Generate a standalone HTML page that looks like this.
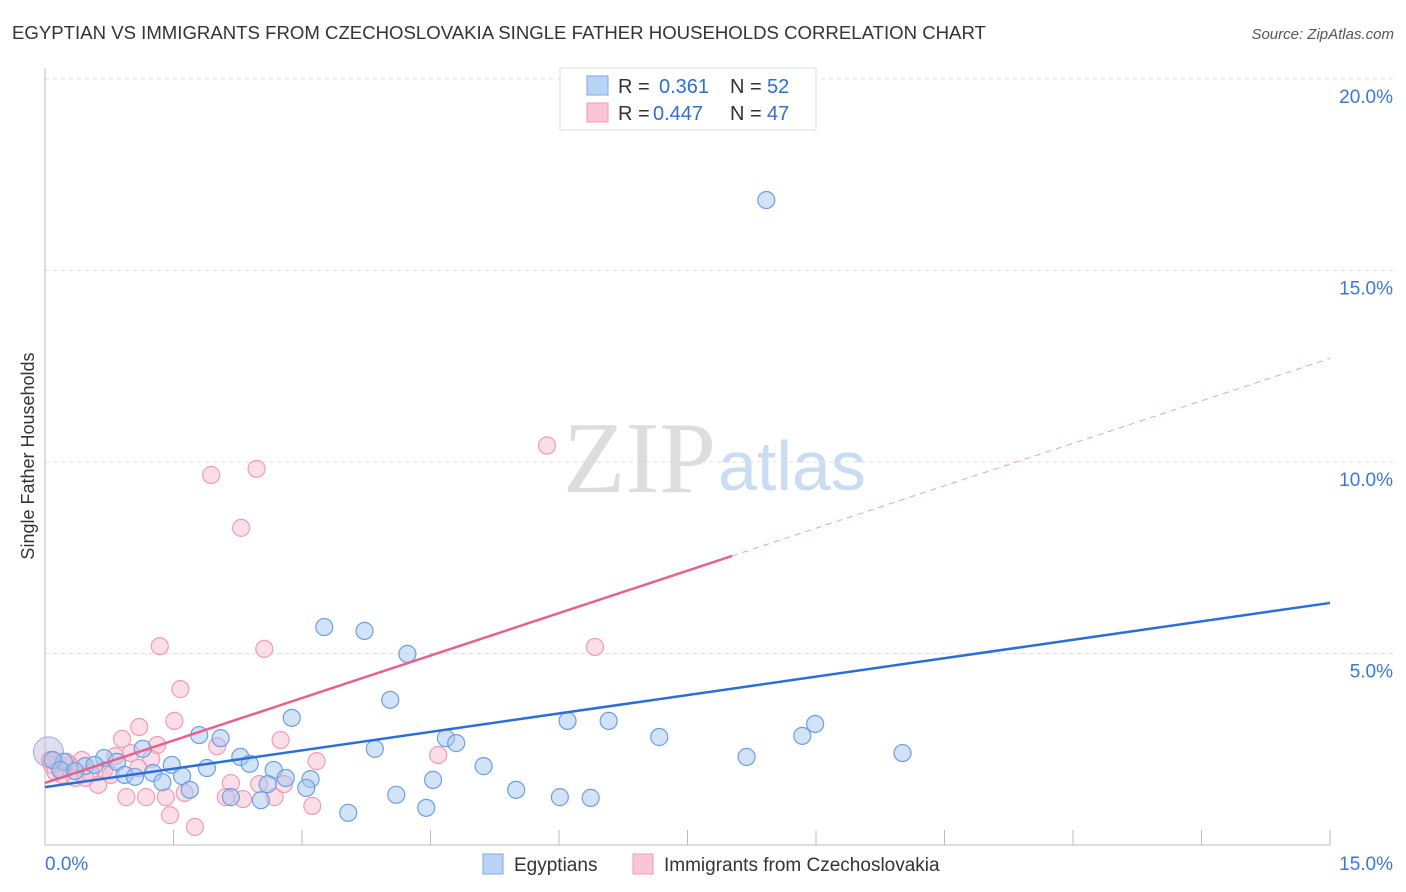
<!DOCTYPE html>
<html><head><meta charset="utf-8"><style>
body{margin:0;background:#fff;font-family:"Liberation Sans",sans-serif;}
#wrap{position:relative;width:1406px;height:892px;overflow:hidden;}
</style></head><body><div id="wrap">
<svg id="svg" width="1406" height="892" xmlns="http://www.w3.org/2000/svg">
<text x="12" y="39" font-size="18.6" fill="#333">EGYPTIAN VS IMMIGRANTS FROM CZECHOSLOVAKIA SINGLE FATHER HOUSEHOLDS CORRELATION CHART</text>
<text x="1394" y="39" font-size="15" fill="#555" font-style="italic" text-anchor="end">Source: ZipAtlas.com</text>
<text x="34" y="456" font-size="18" fill="#333" text-anchor="middle" transform="rotate(-90 34 456)">Single Father Households</text>
<text x="716" y="492" font-size="102" fill="#ddd" text-anchor="end" font-family="Liberation Serif,serif">ZIP</text>
<text x="718" y="490" font-size="70" fill="#c9dcf3">atlas</text>
<g id="grid"></g><g id="axes"></g><g id="pts"></g><g id="lines"></g>
<g>
<rect x="560" y="68" width="256" height="62" fill="#fff" stroke="#ddd"/>
<rect x="587" y="76" width="21" height="19" fill="#b9d3f5" stroke="#7aa8e6"/>
<rect x="587" y="103" width="21" height="19" fill="#f9c6d5" stroke="#ee9ab5"/>
<text y="93" font-size="20" fill="#333"><tspan x="618">R =</tspan><tspan x="659" fill="#2f6fd0">0.361</tspan><tspan x="730">N =</tspan><tspan x="767" fill="#2f6fd0">52</tspan></text>
<text y="120" font-size="20" fill="#333"><tspan x="618">R =</tspan><tspan x="653" fill="#2f6fd0">0.447</tspan><tspan x="730">N =</tspan><tspan x="767" fill="#2f6fd0">47</tspan></text>
</g>
<g>
<rect x="483" y="854" width="20" height="20" fill="#b9d3f5" stroke="#7aa8e6"/>
<text x="514" y="871" font-size="19" fill="#333">Egyptians</text>
<rect x="633" y="854" width="20" height="20" fill="#f9c6d5" stroke="#ee9ab5"/>
<text x="664" y="871" font-size="19" fill="#333">Immigrants from Czechoslovakia</text>
</g>
</svg></div>
<script>
const yTicks=[5,10,15,20];
const yTickLabels=["5.0%","10.0%","15.0%","20.0%"];
const xTickLabels=["0.0%","15.0%"];
const blueX=[8.42,3.26,3.73,4.23,4.03,2.88,1.80,2.05,1.14,0.69,0.84,1.48,1.89,2.28,2.39,0.22,0.47,0.58,0.93,1.26,1.60,1.05,1.37,1.69,2.67,2.81,3.10,2.60,3.05,2.17,2.52,3.54,3.85,4.68,4.80,5.12,4.53,4.10,4.45,5.50,6.01,6.37,6.10,6.58,7.17,8.19,8.84,8.99,10.01,0.09,0.18,0.35];
const blueY=[16.84,5.69,5.59,4.99,3.79,3.32,2.87,2.79,2.51,2.27,2.17,2.09,2.01,2.30,2.12,2.17,2.06,2.09,1.83,1.88,1.80,1.78,1.64,1.44,1.96,1.75,1.72,1.59,1.49,1.25,1.17,0.84,2.51,2.79,2.66,2.06,1.70,1.31,0.97,1.44,1.25,1.23,3.24,3.24,2.82,2.30,2.85,3.16,2.40,2.22,1.96,1.93];
const pinkX=[5.86,1.94,2.47,2.29,1.34,2.56,1.58,6.42,1.10,1.51,0.90,2.75,2.01,1.31,1.00,1.24,0.82,0.69,3.17,4.59,0.43,0.29,0.18,0.08,0.53,0.62,0.77,0.95,1.18,1.41,1.63,2.17,2.50,2.68,2.11,3.12,1.46,1.75,2.79,0.20,0.35,2.31,1.09,0.06,0.12,0.25,0.47];
const pinkY=[10.43,9.66,9.82,8.28,5.19,5.12,4.07,5.17,3.08,3.24,2.77,2.74,2.58,2.61,2.40,2.25,2.32,1.96,2.19,2.35,2.22,2.09,1.96,2.09,1.88,1.57,1.83,1.25,1.25,1.25,1.36,1.62,1.59,1.25,1.25,1.02,0.78,0.47,1.59,1.83,1.75,1.20,2.01,2.22,1.91,2.17,1.75];
const blueLine=[1.51,6.32];
const pinkLine=[1.62,0.739];
const X=v=>45+v/15*1285, Y=v=>845-v/5*191.5;
const NS="http://www.w3.org/2000/svg";
function mk(t,a,p){const e=document.createElementNS(NS,t);for(const k in a)e.setAttribute(k,a[k]);document.getElementById(p).appendChild(e);return e;}
yTicks.forEach((t,i)=>{
 const l=mk('line',{x1:45,x2:1393,y1:Y(t),y2:Y(t),stroke:'#ddd','stroke-dasharray':'4,4'},'grid');
 
 
 const tx=mk('text',{x:1393,y:Y(t)+24,'font-size':19,fill:'#3a78d8','text-anchor':'end'},'grid');
 tx.textContent=yTickLabels[i];
 
 
});
mk('line',{x1:45,x2:45,y1:68,y2:845,stroke:'#bbb'},'axes');
mk('line',{x1:45,x2:1330,y1:845,y2:845,stroke:'#bbb'},'axes');
for(let i=1;i<=10;i++){mk('line',{x1:X(i*1.5),x2:X(i*1.5),y1:830,y2:845,stroke:'#bbb'},'axes');}
[[0,45,'start'],[1,1393,'end']].forEach(([i,x,a])=>{
 const t=mk('text',{x:x,y:870,'font-size':19,fill:'#3a78d8','text-anchor':a},'axes');
 t.textContent=xTickLabels[i];
 
 
});
mk('circle',{cx:X(0.04),cy:Y(2.43),r:15,fill:'rgba(200,190,220,0.5)',stroke:'#8fb0e6'},'pts');
pinkX.forEach((x,i)=>{
 const c=mk('circle',{cx:X(x),cy:Y(pinkY[i]),r:8.5,fill:'rgba(248,182,202,0.45)',stroke:'#f09bb7','stroke-width':1.2},'pts');
 
 
});
blueX.forEach((x,i)=>{
 const c=mk('circle',{cx:X(x),cy:Y(blueY[i]),r:8.5,fill:'rgba(165,198,240,0.5)',stroke:'#6c9fe2','stroke-width':1.2},'pts');
 
 
});
const bl=mk('line',{x1:X(0),y1:Y(blueLine[0]),x2:X(15),y2:Y(blueLine[1]),stroke:'#2a6fd8','stroke-width':2.5},'lines');


const pe=8.02;
const pl=mk('line',{x1:X(0),y1:Y(pinkLine[0]),x2:X(pe),y2:Y(pinkLine[0]+pinkLine[1]*pe),stroke:'#e8618e','stroke-width':2.5},'lines');


const pd=mk('line',{x1:X(pe),y1:Y(pinkLine[0]+pinkLine[1]*pe),x2:X(15),y2:Y(pinkLine[0]+pinkLine[1]*15),stroke:'#eea0b8','stroke-width':1,'stroke-dasharray':'6,5'},'lines');


</script></body></html>
